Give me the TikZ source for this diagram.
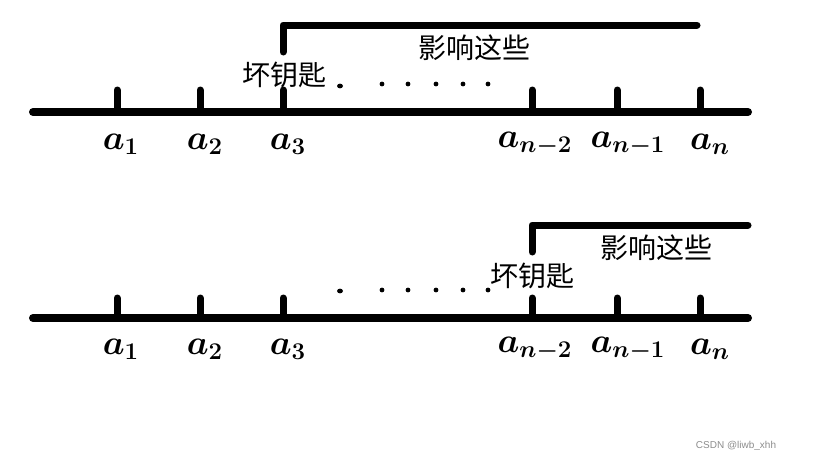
\documentclass[tikz,border=0pt]{standalone}
\usepackage{fontspec}
\newfontfamily\cjk{Noto Sans CJK SC}
\newfontfamily\wmfont{Liberation Sans}
\usetikzlibrary{positioning}
\newcommand{\biglab}[1]{\scalebox{2}{$#1$}}

\begin{document}
\begin{tikzpicture}[
  x=1pt, y=-1pt,
  axis/.style={line width=8pt, line cap=round},
  tickmark/.style={line width=7pt, line cap=round},
  bracket/.style={line width=7pt, line cap=round, line join=round},
  lab/.style={inner sep=0pt, font=\LARGE\boldmath},
  cn/.style={inner sep=0pt, font=\cjk\fontsize{28}{28}\selectfont},
  wm/.style={inner sep=0pt, text=black!45, font=\wmfont\fontsize{10}{12}\selectfont}]
\useasboundingbox (0,0) rectangle (823,463);
\coordinate (ua) at (33,112);
\coordinate (ub) at (748,112);
\draw[axis] (ua) -- (ub);
\foreach \i/\x/\lx/\t in {1/117/121/a_1,2/200/205/a_2,3/283/288/a_3,4/532/535/a_{n-2},5/617/628/a_{n-1},6/700/710/a_n} {
  \coordinate (ut\i) at (\x,90);
  \coordinate (ud\i) at (\x,112);
  \draw[tickmark] (ud\i) -- (ut\i);
  \node[lab] (ul\i) at (\lx,144) {\biglab{\t}};
}
\coordinate (uk0) at (283,52);
\coordinate (uk1) at (283,25);
\coordinate (uk2) at (697,25);
\draw[bracket] (uk0) -- (uk1) -- (uk2);
\node[cn] (ubad) at (284,75) {坏钥匙};
\node[cn] (ueff) at (474,48) {影响这些};
\foreach \x in {382,408,436,463,488} \fill (\x,84) circle (2.4pt);
\fill (340,86) ellipse (3pt and 2.4pt);
\coordinate (la) at (33,318);
\coordinate (lb) at (748,318);
\draw[axis] (la) -- (lb);
\foreach \i/\x/\lx/\t in {1/117/121/a_1,2/200/205/a_2,3/283/288/a_3,4/532/535/a_{n-2},5/617/628/a_{n-1},6/700/710/a_n} {
  \coordinate (lt\i) at (\x,298);
  \coordinate (ld\i) at (\x,318);
  \draw[tickmark] (ld\i) -- (lt\i);
  \node[lab] (ll\i) at (\lx,349) {\biglab{\t}};
}
\coordinate (lk0) at (532,252);
\coordinate (lk1) at (532,225);
\coordinate (lk2) at (748,225);
\draw[bracket] (lk0) -- (lk1) -- (lk2);
\node[cn] (lbad) at (532,276) {坏钥匙};
\node[cn] (leff) at (656,248) {影响这些};
\foreach \x in {382,408,436,463,488} \fill (\x,290) circle (2.4pt);
\fill (340,291) ellipse (3pt and 2.4pt);
\node[wm] (mark) at (736,446) {CSDN @liwb\_xhh};
\end{tikzpicture}
\end{document}
